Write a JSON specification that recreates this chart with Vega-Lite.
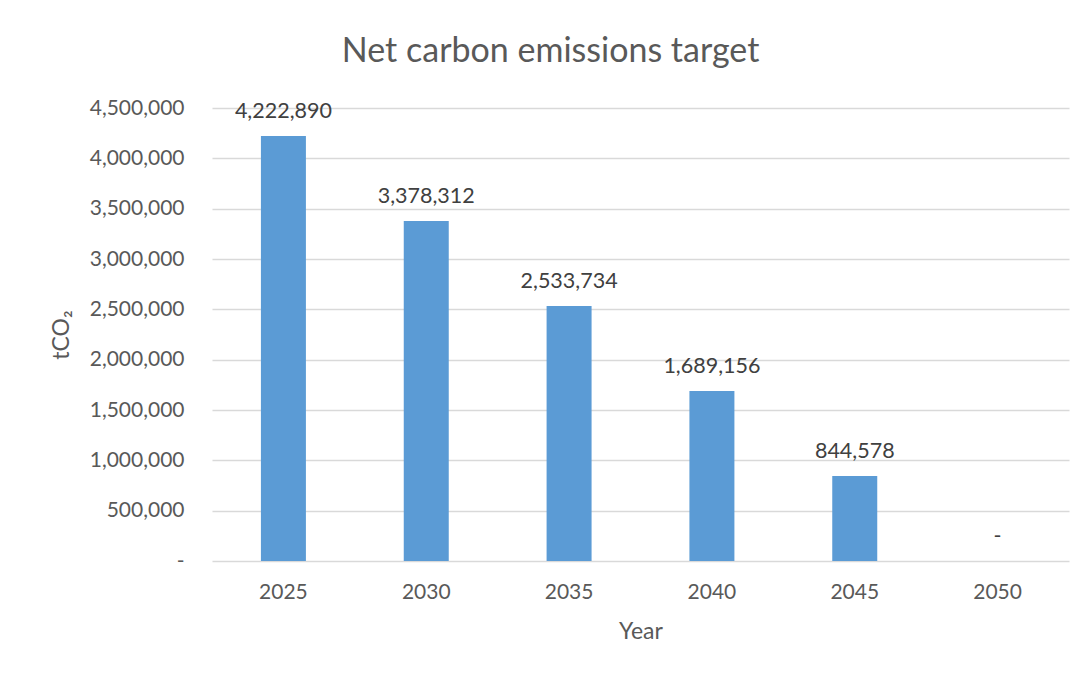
{
  "$schema": "https://vega.github.io/schema/vega-lite/v6.json",
  "autosize": {"type": "none"},
  "width": 857,
  "height": 453,
  "padding": {"left": 212, "top": 108, "right": 19, "bottom": 114},
  "background": "white",
  "title": {
    "text": "Net carbon emissions target",
    "font": "Lato",
    "fontSize": 34,
    "fontWeight": "normal",
    "color": "#595959",
    "frame": "bounds",
    "anchor": "middle",
    "dx": -9,
    "offset": 28
  },
  "data": {
    "values": [
      {"Year": "2025", "tCO2": 4222890, "label": "4,222,890"},
      {"Year": "2030", "tCO2": 3378312, "label": "3,378,312"},
      {"Year": "2035", "tCO2": 2533734, "label": "2,533,734"},
      {"Year": "2040", "tCO2": 1689156, "label": "1,689,156"},
      {"Year": "2045", "tCO2": 844578, "label": "844,578"},
      {"Year": "2050", "tCO2": 0, "label": "-"}
    ]
  },
  "encoding": {
    "x": {
      "field": "Year",
      "type": "nominal",
      "sort": null,
      "scale": {"paddingInner": 0.685, "paddingOuter": 0.3425},
      "axis": {
        "title": "Year",
        "labelAngle": 0,
        "domain": false,
        "ticks": false,
        "labelPadding": 20,
        "titlePadding": 18
      }
    },
    "y": {
      "field": "tCO2",
      "type": "quantitative",
      "scale": {"domain": [0, 4500000], "nice": false},
      "axis": {
        "title": "tCO₂",
        "values": [0, 500000, 1000000, 1500000, 2000000, 2500000, 3000000, 3500000, 4000000, 4500000],
        "labelExpr": "datum.value == 0 ? '-' : format(datum.value, ',')",
        "domain": false,
        "ticks": false,
        "labelPadding": 28,
        "titlePadding": 16,
        "grid": true
      }
    }
  },
  "layer": [
    {"mark": {"type": "bar", "color": "#5B9BD5"}},
    {
      "mark": {
        "type": "text",
        "baseline": "alphabetic",
        "dy": -18,
        "font": "Lato",
        "fontSize": 21.5,
        "color": "#404040"
      },
      "encoding": {"text": {"field": "label", "type": "nominal"}}
    }
  ],
  "config": {
    "view": {"stroke": null},
    "axis": {
      "labelFont": "Lato",
      "labelFontSize": 21,
      "labelColor": "#595959",
      "titleFont": "Lato",
      "titleFontSize": 23,
      "titleFontWeight": "normal",
      "titleColor": "#595959",
      "gridColor": "#D9D9D9",
      "gridWidth": 1.5
    }
  }
}
